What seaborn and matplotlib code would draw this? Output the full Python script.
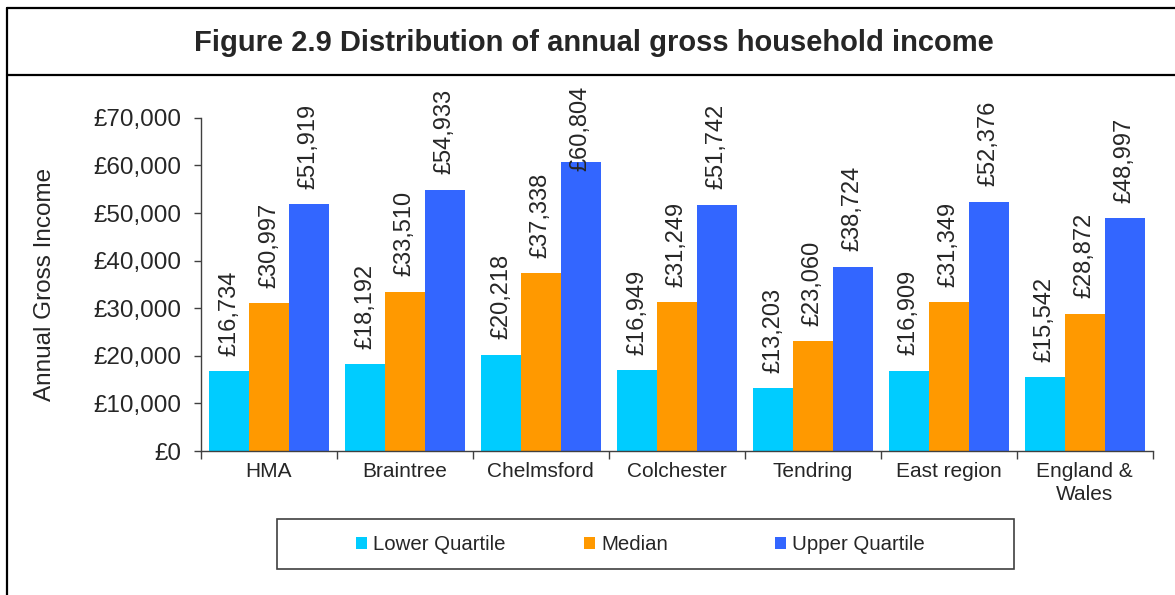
import pandas as pd
import seaborn as sns
from matplotlib import pyplot as plt
from matplotlib.lines import Line2D
from matplotlib.patches import Rectangle
from matplotlib.ticker import FuncFormatter

areas = ["HMA", "Braintree", "Chelmsford", "Colchester", "Tendring",
         "East region", "England &\nWales"]
lower_quartile = [16734, 18192, 20218, 16949, 13203, 16909, 15542]
median = [30997, 33510, 37338, 31249, 23060, 31349, 28872]
upper_quartile = [51919, 54933, 60804, 51742, 38724, 52376, 48997]
series = ["Lower Quartile", "Median", "Upper Quartile"]
colours = ["#00CCFF", "#FF9900", "#3366FF"]

df = pd.DataFrame({
    "area": areas * 3,
    "series": [s for s in series for _ in areas],
    "income": lower_quartile + median + upper_quartile,
})

sns.set_style("white")
plt.rcParams["font.family"] = ["Liberation Sans", "DejaVu Sans"]

fig = plt.figure(figsize=(11.75, 5.95), dpi=100)
ax = fig.add_axes([0.171, 0.242, 0.81, 0.56])

sns.barplot(data=df, x="area", y="income", hue="series", hue_order=series,
            palette=colours, width=0.88, linewidth=0, saturation=1,
            legend=True, ax=ax)

pad = 11
value_labels = []
for cont in ax.containers:
    value_labels += ax.bar_label(cont, fmt="£{:,.0f}", rotation=90,
                                 padding=pad, fontsize=17)

ax.set_ylim(0, 70000)
ax.set_xlim(-0.5, len(areas) - 0.5)
ax.set_yticks(range(0, 70001, 10000))
ax.yaxis.set_major_formatter(FuncFormatter(lambda v, p: f"£{v:,.0f}"))
ax.tick_params(axis="y", labelsize=17.5, length=5, width=1, color="#404040",
               left=True, pad=9)
ax.set_xticks(range(len(areas)))
ax.set_xticklabels(areas, fontsize=15, linespacing=1.25)
ax.set_xticks([i - 0.5 for i in range(len(areas) + 1)], minor=True)
ax.tick_params(axis="x", which="major", length=0, pad=8)
ax.tick_params(axis="x", which="minor", length=6, width=1, color="#404040",
               bottom=True)
ax.set_xlabel("")
ax.set_ylabel("Annual Gross Income", fontsize=17.5, labelpad=27)
for side in ["top", "right"]:
    ax.spines[side].set_visible(False)
for side in ["left", "bottom"]:
    ax.spines[side].set_color("#404040")
    ax.spines[side].set_linewidth(1)

# Excel-style legend: entries placed one by one inside a box
handles, labels = ax.get_legend_handles_labels()
ax.legend_.remove()
for h, lab, x in zip(handles, labels, [356, 584, 775]):
    fig.legend([h], [lab], loc="center left",
               bbox_to_anchor=(x / 1175, 1 - 545 / 595),
               frameon=False, fontsize=14.7, handlelength=0.55,
               handleheight=0.55, handletextpad=0.3, borderpad=0,
               borderaxespad=0)
fig.add_artist(Rectangle((277 / 1175, 1 - 569 / 595), 737 / 1175, 50 / 595,
                         transform=fig.transFigure, fill=False,
                         edgecolor="#404040", linewidth=1.2))

# outer frame and title box
lw = 1.6
fig.add_artist(Line2D([0.006, 1], [0.9866, 0.9866], color="black", lw=lw))
fig.add_artist(Line2D([0.006, 0.006], [0, 0.9866], color="black", lw=lw))
fig.add_artist(Line2D([0.006, 1], [0.874, 0.874], color="black", lw=lw))
fig.text(0.505, 0.927, "Figure 2.9 Distribution of annual gross household income",
         ha="center", va="center", fontsize=21, fontweight="bold")

# keep value labels inside the chart area, like Excel does
fig.canvas.draw()
renderer = fig.canvas.get_renderer()
limit = 595 - 86
for t in value_labels:
    top = t.get_window_extent(renderer).y1
    if top > limit:
        t.xyann = (0, pad - (top - limit) * 72 / fig.dpi)

fig.savefig("out.png", dpi=100)
